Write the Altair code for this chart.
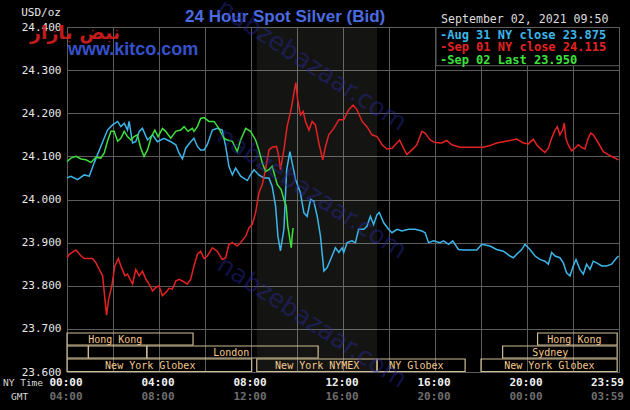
import altair as alt
import pandas as pd

# ---------------- data ----------------
series_names = ["Aug 31", "Sep 01", "Sep 02"]
series_colors = ["#3cb6ea", "#e42222", "#3ee03e"]

blue_h = [0.0, 0.17, 0.46, 0.75, 0.97, 1.18, 1.47, 1.76, 1.98, 2.2, 2.34, 2.49, 2.63, 2.7, 2.85, 2.99,
          3.14, 3.28, 3.5, 3.72, 3.93, 4.22, 4.51, 4.73, 4.87, 5.02, 5.16, 5.38, 5.52, 5.67, 5.81,
          5.96, 6.10, 6.32, 6.53, 6.75, 6.9, 7.04, 7.19, 7.33, 7.55, 7.84, 7.98, 8.13, 8.34, 8.56, 8.78,
          8.92, 9.07, 9.17, 9.28, 9.43, 9.55, 9.69, 9.79, 9.94, 10.15, 10.3, 10.44, 10.59, 10.73, 10.88,
          11.02, 11.17, 11.31, 11.46, 11.67, 11.82, 11.96, 12.03, 12.18, 12.39, 12.54, 12.68, 12.9, 13.04,
          13.19, 13.33, 13.48, 13.58, 13.77, 13.98, 14.13, 14.35, 14.56, 14.85, 15.14, 15.43, 15.57, 15.72,
          15.94, 16.22, 16.37, 16.59, 16.77, 17.02, 17.24, 17.53, 17.82, 18.03, 18.39, 18.68, 18.97, 19.26,
          19.41, 19.55, 19.77, 19.91, 20.13, 20.35, 20.56, 20.78, 20.93, 21.07, 21.22, 21.43, 21.58, 21.72,
          21.87, 22.01, 22.13, 22.3, 22.45, 22.59, 22.74, 22.88, 23.03, 23.25, 23.46, 23.68, 23.9, 23.98]
blue_p = [24.050, 24.054, 24.046, 24.057, 24.054, 24.085, 24.123, 24.161, 24.173, 24.181, 24.169, 24.177,
          24.161, 24.181, 24.131, 24.134, 24.158, 24.165, 24.138, 24.150, 24.134, 24.142, 24.134, 24.127,
          24.108, 24.094, 24.119, 24.134, 24.142, 24.123, 24.115,
          24.115, 24.127, 24.161, 24.165, 24.161, 24.123, 24.077, 24.057, 24.073, 24.054, 24.044, 24.057,
          24.069, 24.057, 24.050, 24.050, 24.031, 23.984, 23.915, 23.881, 23.931, 24.069, 24.111, 24.085,
          24.046, 24.015, 23.969, 23.961, 24.000, 23.996, 23.961, 23.915, 23.834, 23.842, 23.861, 23.888,
          23.877, 23.888, 23.877, 23.900, 23.904, 23.900, 23.931, 23.931, 23.938, 23.961, 23.942, 23.965,
          23.970, 23.946, 23.931, 23.923, 23.931, 23.927, 23.931, 23.931, 23.927, 23.923, 23.900, 23.904,
          23.900, 23.904, 23.896, 23.904, 23.884, 23.883, 23.883, 23.883, 23.896, 23.892, 23.884, 23.880,
          23.869, 23.865, 23.873, 23.884, 23.896, 23.884, 23.869, 23.861, 23.857, 23.850, 23.877, 23.869,
          23.865, 23.853, 23.830, 23.823, 23.846, 23.861, 23.838, 23.827, 23.850, 23.838, 23.857, 23.853,
          23.846, 23.846, 23.850, 23.865, 23.869]

red_h = [0.0, 0.1, 0.39, 0.61, 0.75, 1.11, 1.26, 1.4, 1.55, 1.62, 1.72, 1.81, 1.95, 2.08, 2.23, 2.37, 2.52,
         2.63, 2.78, 2.85, 2.99, 3.14, 3.28, 3.43, 3.57, 3.72, 3.86, 4.0, 4.15, 4.29, 4.44, 4.58, 4.73, 4.87,
         5.02, 5.23, 5.38, 5.52, 5.67, 5.81, 5.96, 6.1, 6.32, 6.53, 6.75, 6.9, 7.04, 7.19, 7.4, 7.55, 7.77,
         7.91, 8.05, 8.2, 8.34, 8.49, 8.63, 8.78, 8.92, 9.11, 9.21, 9.28, 9.43, 9.57, 9.74, 9.89, 9.95, 10.03,
         10.15, 10.27, 10.37, 10.52, 10.66, 10.8, 10.95, 11.12, 11.24, 11.38, 11.6, 11.82, 12.03, 12.25,
         12.44, 12.61, 12.83, 13.04, 13.26, 13.48, 13.7, 13.91, 14.13, 14.27, 14.46, 14.63, 14.78, 15.0,
         15.21, 15.43, 15.57, 15.79, 16.0, 16.29, 16.51, 16.73, 17.09, 17.53, 17.96, 18.1, 18.39, 18.68,
         18.97, 19.26, 19.55, 19.84, 20.06, 20.27, 20.42, 20.56, 20.78, 20.93, 21.07, 21.22, 21.32, 21.43,
         21.55, 21.62, 21.69, 21.79, 21.94, 22.08, 22.23, 22.37, 22.52, 22.66, 22.77, 22.88, 23.1, 23.32,
         23.53, 23.75, 23.98]
red_p = [23.865, 23.873, 23.883, 23.869, 23.863, 23.863, 23.853, 23.838, 23.823, 23.784, 23.732, 23.769,
         23.800, 23.846, 23.863, 23.842, 23.823, 23.827, 23.811, 23.804, 23.838, 23.823, 23.834, 23.815,
         23.804, 23.788, 23.796, 23.800, 23.777, 23.784, 23.794, 23.792, 23.811, 23.815, 23.811, 23.804,
         23.815, 23.846, 23.873, 23.880, 23.863, 23.869, 23.888, 23.880, 23.861, 23.865, 23.896, 23.900,
         23.892, 23.900, 23.915, 23.934, 23.942, 23.969, 24.015, 24.035, 24.069, 24.115, 24.121, 24.123,
         24.100, 24.069, 24.115, 24.169, 24.208, 24.254, 24.271, 24.231, 24.196, 24.204, 24.181, 24.161,
         24.181, 24.173, 24.131, 24.092, 24.123, 24.150, 24.165, 24.185, 24.185, 24.208, 24.219, 24.208,
         24.181, 24.169, 24.150, 24.146, 24.127, 24.117, 24.119, 24.127, 24.138, 24.119, 24.104, 24.115,
         24.127, 24.158, 24.154, 24.138, 24.132, 24.131, 24.137, 24.127, 24.121, 24.121, 24.121, 24.121,
         24.125, 24.131, 24.134, 24.137, 24.140, 24.131, 24.129, 24.140, 24.127, 24.119, 24.109, 24.119,
         24.142, 24.161, 24.169, 24.150, 24.161, 24.177, 24.142, 24.127, 24.113, 24.119, 24.127, 24.121,
         24.117, 24.142, 24.154, 24.150, 24.131, 24.111, 24.104, 24.098, 24.092]

green_h = [0.0, 0.17, 0.39, 0.61, 0.82, 1.04, 1.26, 1.47, 1.62, 1.76, 1.91, 2.05, 2.2, 2.34, 2.49, 2.63,
           2.78, 2.92, 3.06, 3.21, 3.35, 3.5, 3.67, 3.82, 3.96, 4.15, 4.29, 4.51, 4.73, 4.94, 5.09, 5.26,
           5.45, 5.52, 5.67, 5.81, 5.96, 6.17, 6.39, 6.6, 6.82, 6.97, 7.19, 7.4, 7.55, 7.77, 7.98, 8.2, 8.34,
           8.49, 8.63, 8.78, 8.92, 9.02, 9.14, 9.31, 9.43, 9.53, 9.6, 9.69, 9.75, 9.79, 9.83]
green_p = [24.088, 24.096, 24.100, 24.094, 24.092, 24.086, 24.098, 24.096, 24.108, 24.135, 24.158, 24.158,
           24.135, 24.142, 24.158, 24.146, 24.138, 24.146, 24.150, 24.119, 24.100, 24.115, 24.146, 24.161,
           24.146, 24.165, 24.158, 24.142, 24.158, 24.161, 24.169, 24.158, 24.165, 24.158, 24.169, 24.188,
           24.190, 24.181, 24.181, 24.165, 24.142, 24.138, 24.135, 24.111, 24.138, 24.165, 24.158, 24.138,
           24.115, 24.085, 24.065, 24.069, 24.077, 24.058, 24.035, 24.023, 24.000, 23.985, 23.938, 23.908,
           23.888, 23.915, 23.934]

legend_texts = ["-Aug 31 NY close 23.875", "-Sep 01 NY close 24.115", "-Sep 02 Last 23.950"]
date_text = "September 02, 2021 09:50"
title_text = "24 Hour Spot Silver (Bid)"
unit_text = "USD/oz"

y_ticks = [23.6, 23.7, 23.8, 23.9, 24.0, 24.1, 24.2, 24.3, 24.4]
grid_hours = [0, 2, 4, 6, 8, 10, 12, 14, 16, 18, 20, 22, 24]
time_ticks = [0, 4, 8, 12, 16, 20]
ny_labels = ["00:00", "04:00", "08:00", "12:00", "16:00", "20:00"]
gmt_labels = ["04:00", "08:00", "12:00", "16:00", "20:00", "00:00"]
end_tick = [24]
end_ny = ["23:59"]
end_gmt = ["03:59"]

nymex_start = [8.25]
nymex_end = [13.48]

sess_name = ["Hong Kong", "", "", "London", "New York Globex", "New York NYMEX", "NY Globex",
             "New York Globex", "Sydney", "Hong Kong"]
sess_start = [0.0, 0.0, 0.93, 3.47, 0.0, 8.25, 13.48, 18.0, 18.94, 20.46]
sess_end = [5.48, 0.93, 3.47, 10.92, 8.03, 13.48, 17.31, 23.92, 23.92, 23.92]
sess_row = [1, 2, 2, 2, 3, 3, 3, 3, 2, 1]
sess_label_at = [2.1, 0.4, 2.2, 7.14, 3.62, 10.88, 15.19, 20.97, 21.01, 22.06]

# ---------------- styling ----------------
W, H = 552, 345
GRID = "#5c5c5c"
MONO = "DejaVu Sans Mono"
XS = alt.Scale(domain=[0, 24], nice=False, zero=False)
YS = alt.Scale(domain=[23.6, 24.4], nice=False, zero=False)
X_AXIS = alt.Axis(values=grid_hours, labels=False, ticks=False, domain=False, grid=True,
                  gridColor=GRID, gridOpacity=1, gridWidth=1, title=None)
Y_AXIS = alt.Axis(values=y_ticks, format=".3f", labelFont=MONO, labelFontSize=11,
                  labelColor="#e8e8e8", labelPadding=6, ticks=False, domain=False, grid=True,
                  gridColor=GRID, gridOpacity=1, gridWidth=1, title=None)

lines_df = pd.DataFrame({
    "hour": blue_h + red_h + green_h,
    "price": blue_p + red_p + green_p,
    "series": [series_names[0]] * len(blue_h) + [series_names[1]] * len(red_h)
    + [series_names[2]] * len(green_h),
})

sess_df = pd.DataFrame({"name": sess_name, "start": sess_start, "end": sess_end,
                        "row": sess_row, "lab": sess_label_at})

layers = []

# NYMEX shading
layers.append(
    alt.Chart(pd.DataFrame({"s": nymex_start, "e": nymex_end}))
    .mark_rect(color="#e8f4dc", opacity=0.085)
    .encode(x=alt.X("s:Q", scale=XS, axis=X_AXIS), x2="e:Q", y=alt.value(0), y2=alt.value(H))
)

# session boxes and labels
row_top = {1: 306.0, 2: 319.0, 3: 332.0}
row_bot = {1: 318.0, 2: 331.0, 3: 344.5}
row_mid = {1: 312.5, 2: 325.5, 3: 338.5}
for r in (1, 2, 3):
    base = alt.Chart(sess_df).transform_filter(alt.datum.row == r)
    layers.append(
        base.mark_rect(fill="black", fillOpacity=0, stroke="#cdbb92", strokeWidth=1.2)
        .encode(x=alt.X("start:Q", scale=XS, axis=X_AXIS), x2="end:Q",
                y=alt.value(row_top[r]), y2=alt.value(row_bot[r]))
    )
    layers.append(
        base.mark_text(font=MONO, fontSize=10, color="#f4c98e", baseline="middle")
        .encode(x=alt.X("lab:Q", scale=XS, axis=X_AXIS), y=alt.value(row_mid[r]), text="name:N")
    )

# price lines
layers.append(
    alt.Chart(lines_df).mark_line(strokeWidth=1.5)
    .encode(
        x=alt.X("hour:Q", scale=XS, axis=X_AXIS),
        y=alt.Y("price:Q", scale=YS, axis=Y_AXIS),
        color=alt.Color("series:N", scale=alt.Scale(domain=series_names, range=series_colors),
                        legend=None),
    )
)

# legend box and entries
layers.append(
    alt.Chart(pd.DataFrame({"a": [0]})).mark_rect(fill="black", stroke=GRID, strokeWidth=1)
    .encode(x=alt.value(369), x2=alt.value(552.5), y=alt.value(0.5), y2=alt.value(38.7))
)
for i, (t, c) in enumerate(zip(legend_texts, series_colors)):
    layers.append(
        alt.Chart(pd.DataFrame({"t": [t]}))
        .mark_text(font=MONO, fontSize=12, fontWeight="bold", color=c, align="left", baseline="middle")
        .encode(x=alt.value(373), y=alt.value(7.5 + 12.6 * i), text="t:N")
    )

# header texts
def label(text, x, y, **kw):
    return (alt.Chart(pd.DataFrame({"t": [text]}))
            .mark_text(baseline="middle", **kw)
            .encode(x=alt.value(x), y=alt.value(y), text="t:N"))

layers.append(label(date_text, 374, -7, font=MONO, fontSize=11.6, color="#dcdcdc", align="left"))
layers.append(label(unit_text, -6, -14, font=MONO, fontSize=11, color="#e8e8e8", align="right"))
layers.append(label(title_text, 118, -10, font="Liberation Sans", fontSize=17,
                    fontWeight="bold", color="#4b6be0", align="left"))
layers.append(label("www.kitco.com", 1, 23, font="Liberation Sans", fontSize=18, fontWeight="bold",
                    color="#3552cc", align="left"))
layers.append(label("NY Time", -64, 356, font=MONO, fontSize=9.5, color="#d8d8d8", align="left"))
layers.append(label("GMT", -56, 370, font=MONO, fontSize=9.5, color="#d8d8d8", align="left"))

# watermark
for wy in (38, 166, 295):
    layers.append(label("nabzebazaar.com", 245, wy, font="DejaVu Sans", fontSize=25, angle=33,
                        color="#2a2aa0", opacity=0.42, align="center"))
layers.append(label("نبض بازار", 8, 6, font="DejaVu Sans", fontSize=19, fontWeight="bold",
                    color="#d81e1e", opacity=0.9, align="center"))

# time tick labels
tick_df = pd.DataFrame({"h": time_ticks, "ny": ny_labels, "gmt": gmt_labels})
end_df = pd.DataFrame({"h": end_tick, "ny": end_ny, "gmt": end_gmt})
for df, align, dx in ((tick_df, "center", -1), (end_df, "right", 5)):
    layers.append(
        alt.Chart(df).mark_text(font=MONO, fontSize=11, fontWeight="bold", color="#f0f0f0",
                                align=align, dx=dx, baseline="middle")
        .encode(x=alt.X("h:Q", scale=XS, axis=X_AXIS), y=alt.value(356), text="ny:N")
    )
    layers.append(
        alt.Chart(df).mark_text(font=MONO, fontSize=11, fontWeight="bold", color="#6e6e6e",
                                align=align, dx=dx, baseline="middle")
        .encode(x=alt.X("h:Q", scale=XS, axis=X_AXIS), y=alt.value(370), text="gmt:N")
    )

chart = (
    alt.layer(*layers)
    .properties(width=W, height=H, autosize="none", background="black",
                padding={"left": 67, "top": 27, "right": 11, "bottom": 38})
    .configure_view(stroke=GRID, strokeWidth=1)
)

chart.save("out.html", embed_options={"renderer": "svg", "actions": False})
